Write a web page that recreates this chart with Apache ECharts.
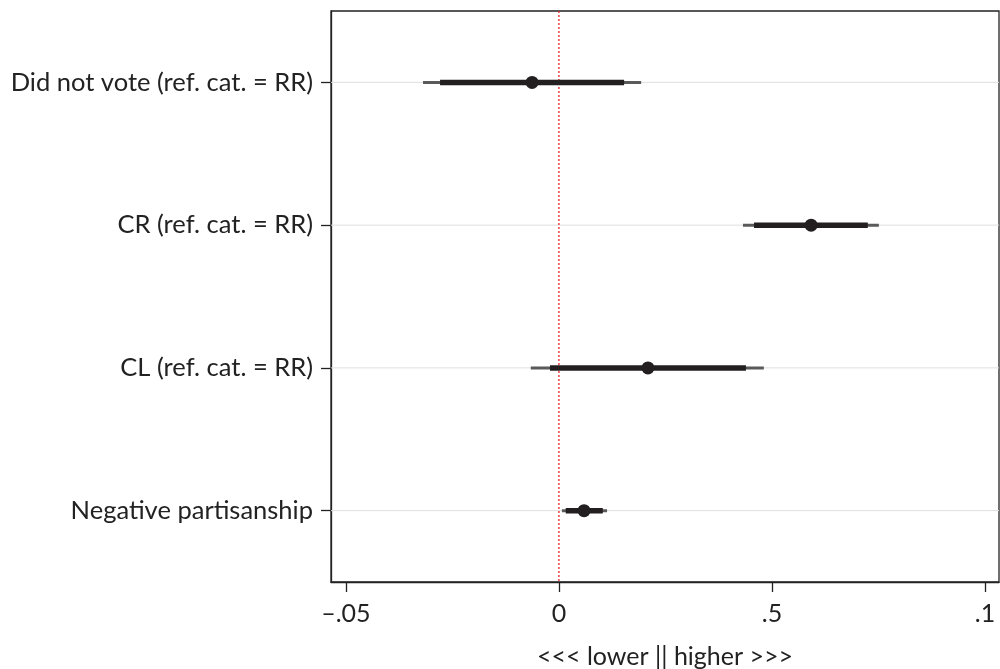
<!DOCTYPE html>
<html>
<head>
<meta charset="utf-8">
<script src="https://cdn.jsdelivr.net/npm/echarts@6/dist/echarts.min.js"></script>
<style>
html,body{margin:0;padding:0;background:#fff;}
#chart{width:1000px;height:669px;}
</style>
</head>
<body>
<div id="chart"></div>
<script>
// Categories listed bottom to top
const categories = ["Negative partisanship", "CL (ref. cat. = RR)", "CR (ref. cat. = RR)", "Did not vote (ref. cat. = RR)"];
const estimates = [0.0059, 0.0209, 0.0592, -0.0063];
const innerLow  = [0.0016, -0.0021, 0.0458, -0.0279];
const innerHigh = [0.0103, 0.0439, 0.0725, 0.0153];
const outerLow  = [0.0007, -0.0066, 0.0432, -0.0319];
const outerHigh = [0.0113, 0.0481, 0.0751, 0.0193];
const xTickValues = [-0.05, 0, 0.05, 0.1];
const xTickLabels = ["\u2013.05", "0", ".5", ".1"];
const xTitle = "<<< lower || higher >>>";
const refLineX = [0];

const xMin = -0.0535, xMax = 0.1033;

const chart = echarts.init(document.getElementById('chart'), null, {renderer: 'canvas'});

function segSeries(name, lows, highs, width, color, z) {
  return {
    type: 'custom', name: name, z: z, silent: true,
    data: categories.map((c, i) => [lows[i], highs[i], i]),
    encode: {x: [0, 1], y: 2},
    renderItem: function (params, api) {
      const a = api.coord([api.value(0), api.value(2)]);
      const b = api.coord([api.value(1), api.value(2)]);
      return {type: 'line', shape: {x1: a[0], y1: a[1], x2: b[0], y2: b[1]},
              style: {stroke: color, lineWidth: width, lineCap: 'butt'}};
    }
  };
}

const option = {
  animation: false,
  backgroundColor: '#fff',
  grid: {left: 331, right: 1, top: 11, bottom: 87, containLabel: false,
         outerBoundsMode: 'none',
         show: true, borderColor: '#222', borderWidth: 1.3},
  xAxis: {
    type: 'value', min: xMin, max: xMax,
    name: xTitle, nameLocation: 'middle', nameGap: 62,
    nameTextStyle: {fontFamily: 'Lato', fontSize: 25, color: '#222'},
    axisLine: {show: true, onZero: false, lineStyle: {color: '#222', width: 1.3}},
    axisTick: {show: true, length: 10, lineStyle: {color: '#222', width: 1.3}, customValues: xTickValues},
    axisLabel: {fontFamily: 'Lato', fontSize: 25, color: '#222', margin: 19,
      customValues: xTickValues,
      formatter: function (v) {
        for (let i = 0; i < xTickValues.length; i++) {
          if (Math.abs(v - xTickValues[i]) < 1e-9) return xTickLabels[i];
        }
        return '';
      }},
    splitLine: {show: false}
  },
  yAxis: {
    type: 'category', data: categories, boundaryGap: true,
    axisLine: {show: true, onZero: false, lineStyle: {color: '#222', width: 1.3}},
    axisTick: {show: true, alignWithLabel: true, length: 10, lineStyle: {color: '#222', width: 1.3}},
    axisLabel: {fontFamily: 'Lato', fontSize: 25.5, color: '#222', margin: 18},
    splitLine: {show: false}
  },
  series: [
    {
      type: 'custom', name: 'grid', z: 1, silent: true,
      data: categories.map((c, i) => [xMin, xMax, i]),
      encode: {x: [0, 1], y: 2},
      renderItem: function (params, api) {
        const a = api.coord([api.value(0), api.value(2)]);
        const b = api.coord([api.value(1), api.value(2)]);
        return {type: 'line', shape: {x1: a[0], y1: a[1], x2: b[0], y2: b[1]},
                style: {stroke: '#dedede', lineWidth: 1}};
      }
    },
    {
      type: 'custom', name: 'zero', z: 2, silent: true,
      data: refLineX.map(v => [v, 0]),
      encode: {x: 0, y: 1},
      renderItem: function (params, api) {
        const p = api.coord([api.value(0), 0]);
        const cs = params.coordSys;
        return {type: 'line', shape: {x1: p[0], y1: cs.y, x2: p[0], y2: cs.y + cs.height},
                style: {stroke: '#e8242e', lineWidth: 1.3, lineDash: [2, 2]}};
      }
    },
    segSeries('outer', outerLow, outerHigh, 3, '#5a5a5a', 3),
    segSeries('inner', innerLow, innerHigh, 5.5, '#231f20', 4),
    {
      type: 'scatter', name: 'est', z: 5, silent: true,
      symbol: 'circle', symbolSize: 13,
      itemStyle: {color: '#231f20', opacity: 1},
      data: categories.map((c, i) => [estimates[i], i])
    }
  ]
};
chart.setOption(option);
</script>
</body>
</html>
